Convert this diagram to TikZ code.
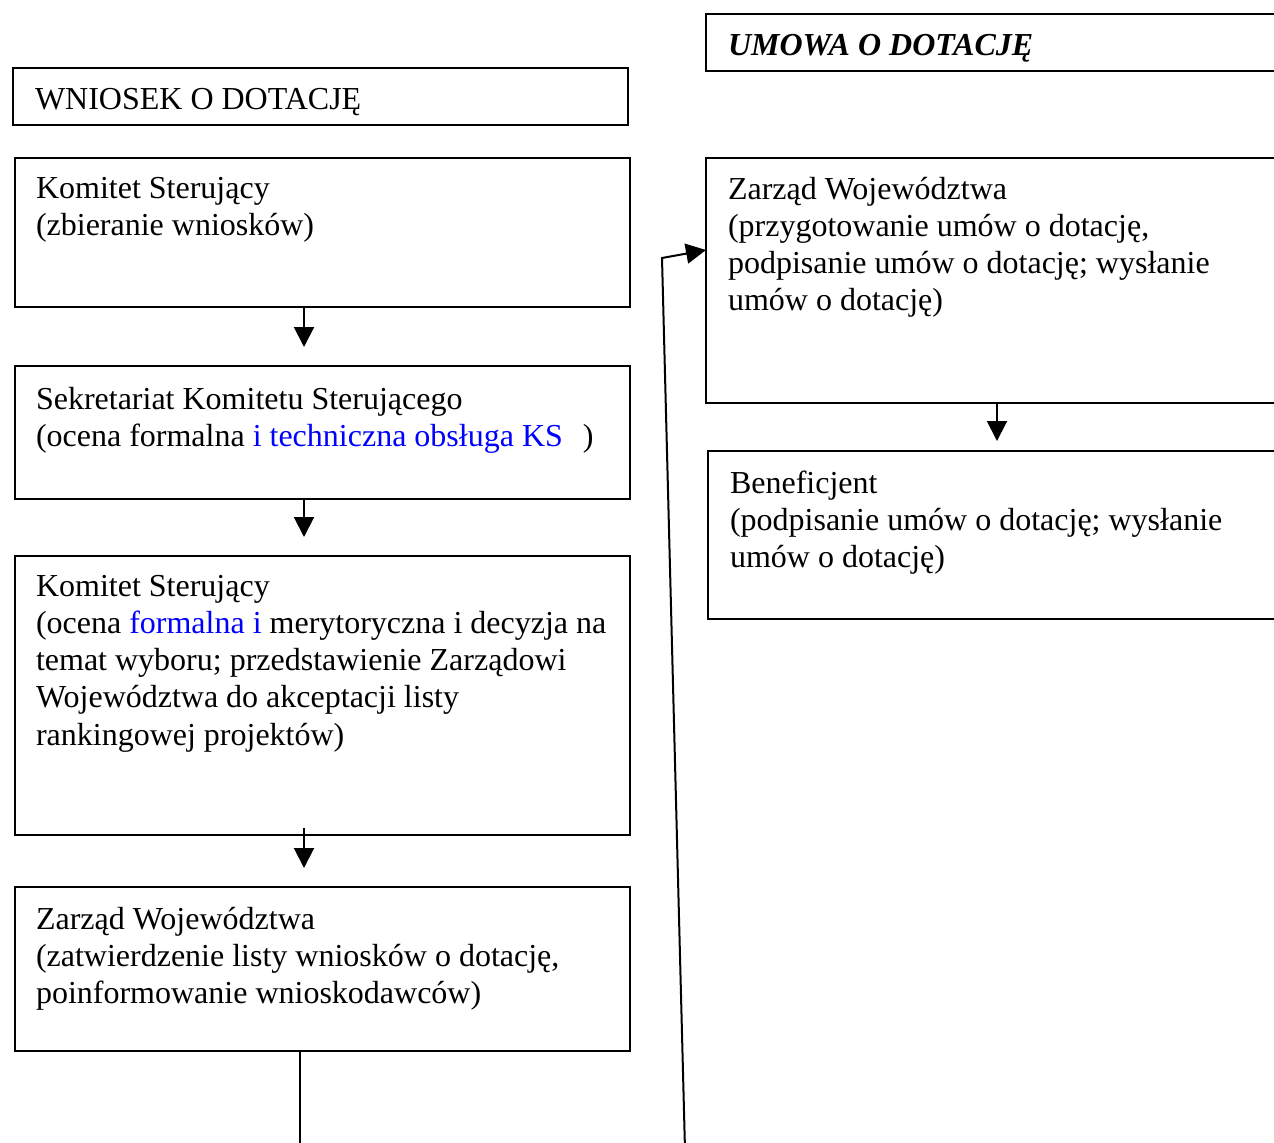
\documentclass[tikz,border=0pt]{standalone}
\usepackage{fontspec}
\setmainfont{Liberation Serif}
\usetikzlibrary{arrows.meta}

\begin{document}
\begin{tikzpicture}[x=0.5pt,y=-0.5pt,line width=1pt,
    txt/.style={anchor=north west,align=left,inner sep=0pt,
      execute at begin node=\strut,
      font=\fontsize{16}{18.6}\selectfont},
    pil/.style={-{Triangle[length=10pt,width=10pt]}}]
                \clip (0,0) rectangle (1274,1142);
                % left column
                \coordinate (W1) at (13,68);
                \coordinate (W2) at (628,125);
                \coordinate (K1) at (15,158);
                \coordinate (K2) at (630,307);
                \coordinate (S1) at (15,366);
                \coordinate (S2) at (630,499);
                \coordinate (M1) at (15,556);
                \coordinate (M2) at (630,835);
                \coordinate (Z1) at (15,887);
                \coordinate (Z2) at (630,1051);
                % right column
                \coordinate (U1) at (706,14);
                \coordinate (U2) at (1290,71);
                \coordinate (R1) at (706,158);
                \coordinate (R2) at (1290,403);
                \coordinate (B1) at (708,451);
                \coordinate (B2) at (1290,619);
                \draw (W1) rectangle (W2);
                \draw (K1) rectangle (K2);
                \draw (S1) rectangle (S2);
                \draw (M1) rectangle (M2);
                \draw (Z1) rectangle (Z2);
                \draw (U1) rectangle (U2);
                \draw (R1) rectangle (R2);
                \draw (B1) rectangle (B2);
                % texts (top of strut = baseline - 26)
                \node[txt] (wniosek) at (34,82) {WNIOSEK O DOTACJĘ};
                \node[txt,font=\fontsize{16}{18.6}\selectfont\bfseries\itshape] (umowa) at (727,28) {UMOWA O DOTACJĘ};
                \node[txt] (komitet) at (35,176) {Komitet Sterujący\\(zbieranie wniosków)};
                \node[txt] (sekret) at (35,386) {Sekretariat Komitetu Sterującego\\(ocena formalna \textcolor{blue}{i techniczna obsługa KS}\hspace{10pt})};
                \node[txt] (ocena) at (35,574) {Komitet Sterujący\\(ocena \textcolor{blue}{formalna i} merytoryczna i decyzja na\\temat wyboru; przedstawienie Zarządowi\\Województwa do akceptacji listy\\rankingowej projektów)};
                \node[txt] (zarzad) at (35,906) {Zarząd Województwa\\(zatwierdzenie listy wniosków o dotację,\\poinformowanie wnioskodawców)};
                \node[txt] (zarzadR) at (727,176) {Zarząd Województwa\\(przygotowanie umów o dotację,\\podpisanie umów o dotację; wysłanie\\umów o dotację)};
                \node[txt] (benef) at (729,470) {Beneficjent\\(podpisanie umów o dotację; wysłanie\\umów o dotację)};
                % connectors
                \coordinate (a1) at (304,307);
                \coordinate (a2) at (304,347);
                \coordinate (b1) at (304,499);
                \coordinate (b2) at (304,537);
                \coordinate (c1) at (304,828);
                \coordinate (c2) at (304,868);
                \coordinate (d1) at (997,403);
                \coordinate (d2) at (997,441);
                \coordinate (e1) at (300,1051);
                \coordinate (e2) at (300,1150);
                \coordinate (f1) at (685,1150);
                \coordinate (f2) at (662,258);
                \coordinate (f3) at (706,250);
                \draw[pil] (a1) -- (a2);
                \draw[pil] (b1) -- (b2);
                \draw[pil] (c1) -- (c2);
                \draw[pil] (d1) -- (d2);
                \draw (e1) -- (e2);
                \draw[pil] (f1) -- (f2) -- (f3);
            \end{tikzpicture}
\end{document}
